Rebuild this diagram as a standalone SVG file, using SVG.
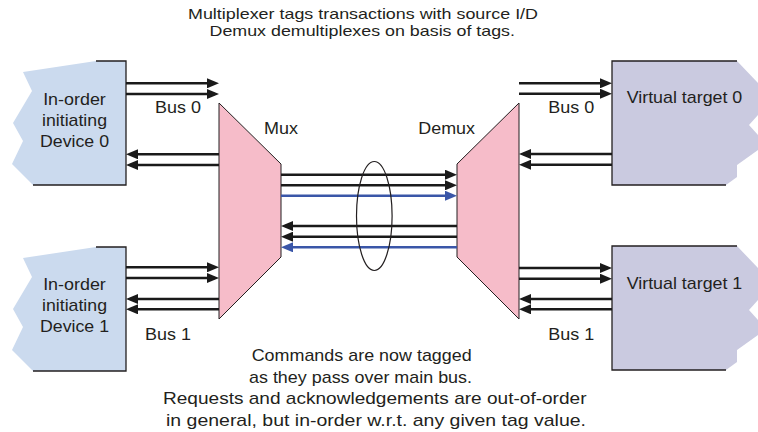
<svg xmlns="http://www.w3.org/2000/svg" width="758" height="432" viewBox="0 0 758 432">
<style>
  text { font-family: "Liberation Sans", Arial, sans-serif; font-size: 17px; fill: #231f20; }
  .ttl { font-size: 15px; }
  .dev { fill: #cbdaee; stroke: none; }
  .tgt { fill: #cacae0; stroke: none; }
  .edge { fill: none; stroke: #231f20; stroke-width: 1.3; }
  .mux { fill: #f6bcc9; stroke: #231f20; stroke-width: 1; }
  .k { stroke: #1a1a1a; stroke-width: 2.6; fill: none; }
  .b { stroke: #3a56a8; stroke-width: 2.6; fill: none; }
</style>
<defs>
  <marker id="ak" markerUnits="userSpaceOnUse" markerWidth="12" markerHeight="10" refX="8" refY="5" orient="auto">
    <path d="M0,0 L12,5 L0,10 z" fill="#1a1a1a"/>
  </marker>
  <marker id="ab" markerUnits="userSpaceOnUse" markerWidth="12" markerHeight="10" refX="8" refY="5" orient="auto">
    <path d="M0,0 L12,5 L0,10 z" fill="#3a56a8"/>
  </marker>
</defs>
<rect width="758" height="432" fill="#ffffff"/>

<g id="title">
  <text class="ttl" x="188" y="18.5" textLength="350" lengthAdjust="spacingAndGlyphs">Multiplexer tags transactions with source I/D</text>
  <text class="ttl" x="209.5" y="36" textLength="305.5" lengthAdjust="spacingAndGlyphs">Demux demultiplexes on basis of tags.</text>
</g>

<g id="device0">
  <polygon class="dev" points="23,72 96,61 126,61 126,185 33,185 12,164 23,141 13,123 32,91"/>
  <polyline class="edge" points="96,61 126,61 126,185 33,185"/>
  <text x="74.5" y="105" text-anchor="middle" textLength="62.7" lengthAdjust="spacingAndGlyphs">In-order</text>
  <text x="74.5" y="126" text-anchor="middle" textLength="65" lengthAdjust="spacingAndGlyphs">initiating</text>
  <text x="74.5" y="147" text-anchor="middle" textLength="69" lengthAdjust="spacingAndGlyphs">Device 0</text>
</g>

<g id="device1">
  <polygon class="dev" points="23,258 96,247 126,247 126,371 33,371 12,350 23,327 13,309 32,277"/>
  <polyline class="edge" points="96,247 126,247 126,371 33,371"/>
  <text x="74.5" y="290" text-anchor="middle" textLength="62.7" lengthAdjust="spacingAndGlyphs">In-order</text>
  <text x="74.5" y="311" text-anchor="middle" textLength="65" lengthAdjust="spacingAndGlyphs">initiating</text>
  <text x="74.5" y="332" text-anchor="middle" textLength="69" lengthAdjust="spacingAndGlyphs">Device 1</text>
</g>

<g id="mux">
  <polygon class="mux" points="219,103 281,164 281,257 219,319"/>
  <text x="264" y="134" textLength="34" lengthAdjust="spacingAndGlyphs">Mux</text>
</g>

<g id="demux">
  <polygon class="mux" points="457,164 519,103 519,319 457,257"/>
  <text x="418.3" y="134" textLength="56.7" lengthAdjust="spacingAndGlyphs">Demux</text>
</g>

<g id="target0">
  <polygon class="tgt" points="612,61 737,61 758,83 758,115 749,125 758,135 758,150 737,165 737,177 726,185 612,185"/>
  <polyline class="edge" points="737,61 612,61 612,185 726,185"/>
  <text x="626.7" y="103.3" textLength="115.6" lengthAdjust="spacingAndGlyphs">Virtual target 0</text>
</g>

<g id="target1">
  <polygon class="tgt" points="612,246 737,246 758,268 758,300 749,310 758,320 758,335 737,350 737,362 726,370 612,370"/>
  <polyline class="edge" points="737,246 612,246 612,370 726,370"/>
  <text x="626.7" y="289.3" textLength="115.6" lengthAdjust="spacingAndGlyphs">Virtual target 1</text>
</g>

<g id="connectors">
  <line class="k" x1="126" y1="83.3" x2="215" y2="83.3" marker-end="url(#ak)"/>
  <line class="k" x1="126" y1="94" x2="215" y2="94" marker-end="url(#ak)"/>
  <line class="k" x1="219" y1="154.3" x2="130" y2="154.3" marker-end="url(#ak)"/>
  <line class="k" x1="219" y1="165" x2="130" y2="165" marker-end="url(#ak)"/>
  <line class="k" x1="126" y1="267.3" x2="215" y2="267.3" marker-end="url(#ak)"/>
  <line class="k" x1="126" y1="278" x2="215" y2="278" marker-end="url(#ak)"/>
  <line class="k" x1="219" y1="299" x2="130" y2="299" marker-end="url(#ak)"/>
  <line class="k" x1="219" y1="309.3" x2="130" y2="309.3" marker-end="url(#ak)"/>
  <line class="k" x1="281" y1="174.7" x2="453" y2="174.7" marker-end="url(#ak)"/>
  <line class="k" x1="281" y1="185.3" x2="453" y2="185.3" marker-end="url(#ak)"/>
  <line class="b" x1="281" y1="195.7" x2="453" y2="195.7" marker-end="url(#ab)"/>
  <line class="k" x1="457" y1="226" x2="285" y2="226" marker-end="url(#ak)"/>
  <line class="k" x1="457" y1="236.7" x2="285" y2="236.7" marker-end="url(#ak)"/>
  <line class="b" x1="457" y1="247.3" x2="285" y2="247.3" marker-end="url(#ab)"/>
  <ellipse cx="374.3" cy="216" rx="17.8" ry="54.5" fill="none" stroke="#231f20" stroke-width="1.2"/>
  <line class="k" x1="519" y1="83.3" x2="608" y2="83.3" marker-end="url(#ak)"/>
  <line class="k" x1="519" y1="93.7" x2="608" y2="93.7" marker-end="url(#ak)"/>
  <line class="k" x1="612" y1="154" x2="523" y2="154" marker-end="url(#ak)"/>
  <line class="k" x1="612" y1="164.7" x2="523" y2="164.7" marker-end="url(#ak)"/>
  <line class="k" x1="519" y1="268" x2="608" y2="268" marker-end="url(#ak)"/>
  <line class="k" x1="519" y1="278.7" x2="608" y2="278.7" marker-end="url(#ak)"/>
  <line class="k" x1="612" y1="299" x2="523" y2="299" marker-end="url(#ak)"/>
  <line class="k" x1="612" y1="309.3" x2="523" y2="309.3" marker-end="url(#ak)"/>
</g>

<g id="labels">
  <text x="155" y="112.7" textLength="46" lengthAdjust="spacingAndGlyphs">Bus 0</text>
  <text x="145" y="340" textLength="46" lengthAdjust="spacingAndGlyphs">Bus 1</text>
  <text x="548.3" y="112.7" textLength="46" lengthAdjust="spacingAndGlyphs">Bus 0</text>
  <text x="548.3" y="340" textLength="46" lengthAdjust="spacingAndGlyphs">Bus 1</text>
</g>

<g id="caption">
  <text x="251.7" y="360.5" textLength="220" lengthAdjust="spacingAndGlyphs">Commands are now tagged</text>
  <text x="249" y="382.5" textLength="223" lengthAdjust="spacingAndGlyphs">as they pass over main bus.</text>
  <text x="163" y="404" textLength="423.5" lengthAdjust="spacingAndGlyphs">Requests and acknowledgements are out-of-order</text>
  <text x="166" y="426" textLength="420" lengthAdjust="spacingAndGlyphs">in general, but in-order w.r.t. any given tag value.</text>
</g>
</svg>
